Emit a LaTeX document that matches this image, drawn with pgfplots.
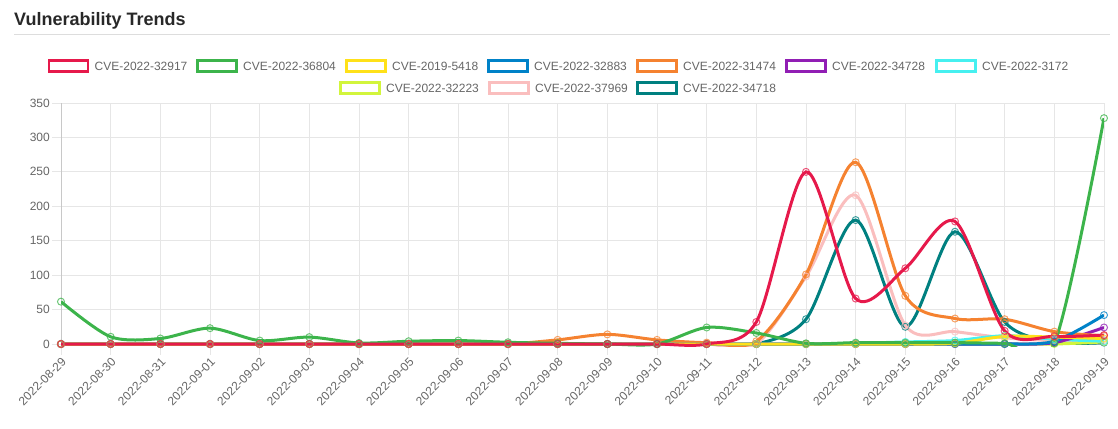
\documentclass[border=0pt]{standalone}
\usepackage{fontspec}
\setmainfont{Liberation Sans}
\usepackage{pgfplots}
\usepackage{pgfplotstable}
\pgfplotsset{compat=1.18}
\definecolor{cRed}{RGB}{230,25,75}
\definecolor{cGreen}{RGB}{60,180,75}
\definecolor{cYellow}{RGB}{255,225,25}
\definecolor{cBlue}{RGB}{0,130,200}
\definecolor{cOrange}{RGB}{245,130,48}
\definecolor{cPurple}{RGB}{145,30,180}
\definecolor{cCyan}{RGB}{70,240,240}
\definecolor{cLime}{RGB}{210,245,60}
\definecolor{cPink}{RGB}{250,190,190}
\definecolor{cTeal}{RGB}{0,128,128}
\definecolor{tickc}{RGB}{102,102,102}
\definecolor{gridc}{RGB}{230,230,230}
\definecolor{axisc}{RGB}{200,200,200}
\definecolor{titlec}{RGB}{40,40,40}
\definecolor{rulec}{RGB}{221,221,221}

\pgfplotstableread{
x red green yellow blue orange purple cyan lime pink teal
0  0   61.5 0  0  0   0  0  0  0   0
1  0   10.5 0  0  0   0  0  0  0   0
2  0   8    0  0  0   0  0  0  0   0
3  0   23   0  0  0   0  0  0  0   0
4  0   5    0  0  0   0  0  0  0   0
5  0   10   0  0  0   0  0  0  0   0
6  0   1.5  0  0  0   0  0  0  0   0
7  0   4    0  0  0   0  0  0  0   0
8  0   5    0  0  0   0  0  0  0   0
9  0   2.5  0  0  0   0  0  0  0   0
10 0   1    0  0  6   0  0  0  0   0
11 0   0    0  0  14  0  0  0  0   0
12 0   0    0  0  6   0  0  0  0   0
13 0   24   0  0  2   0  0  0  0   0
14 32  16   0  0  4   0  0  0  0   0
15 250 1    0  0  101 0  0  0  98  36
16 66  2    0  0  264 0  1  0  216 180
17 110 2    0  0  70  0  3  0  27  25
18 178 2    1  0  37  0  5  0  18  163
19 19  1    11 0  36  0  12 0  9   32
20 11  1    10 4  18  2  7  0  5   3
21 13  328  8  42 12  24 4  3  6   2
}\datatable

\begin{document}
\begin{tikzpicture}[x=1pt,y=1pt]
\path[use as bounding box] (0pt,0pt) rectangle (1118pt,-428pt);
\node[anchor=base west, font=\fontsize{18}{20}\selectfont\bfseries, text=titlec, inner sep=0] at (14pt,-25.5pt) {Vulnerability Trends};
\draw[rulec, line width=1pt] (14pt,-34.5pt) -- (1110pt,-34.5pt);
\foreach \xx/\yy/\col/\lab in {
  47.5/66/cRed/CVE-2022-32917,
  196/66/cGreen/CVE-2022-36804,
  345/66/cYellow/CVE-2019-5418,
  487/66/cBlue/CVE-2022-32883,
  636/66/cOrange/CVE-2022-31474,
  785/66/cPurple/CVE-2022-34728,
  935/66/cCyan/CVE-2022-3172,
  339/88/cLime/CVE-2022-32223,
  488/88/cPink/CVE-2022-37969,
  636/88/cTeal/CVE-2022-34718}{
  \draw[\col, line width=2.5pt, fill=white] (\xx pt+1.5pt,-\yy pt+5.5pt) rectangle (\xx pt+40.5pt,-\yy pt-5.5pt);
  \node[anchor=west, inner sep=0pt, font=\fontsize{12}{14}\selectfont, text=tickc] at (\xx pt+47pt,-\yy pt) {\lab};
}
\begin{axis}[
  at={(61pt,-346.07pt)}, anchor=south west,
  scale only axis, width=1043pt, height=243.07pt,
  xmin=0, xmax=21, ymin=-3, ymax=350,
  axis line style={draw=none},
  grid=major, major grid style={gridc, line width=0.8pt},
  tick align=outside, major tick length=9pt,
  tick style={gridc, line width=0.8pt},
  xtick pos=left, ytick pos=left,
  xtick={0,...,21},
  xticklabels={2022-08-29,2022-08-30,2022-08-31,2022-09-01,2022-09-02,2022-09-03,2022-09-04,2022-09-05,2022-09-06,2022-09-07,2022-09-08,2022-09-09,2022-09-10,2022-09-11,2022-09-12,2022-09-13,2022-09-14,2022-09-15,2022-09-16,2022-09-17,2022-09-18,2022-09-19},
  ytick={0,50,...,350},
  xticklabel style={rotate=45, anchor=north east, font=\fontsize{12}{14}\selectfont, text=tickc, inner sep=1pt},
  yticklabel style={font=\fontsize{12}{14}\selectfont, text=tickc, inner sep=2pt},
  /pgf/number format/assume math mode=true,
  every axis plot/.append style={smooth, line width=3pt, mark=o, mark size=3.5pt, mark options={line width=1pt, opacity=0.75}},
]
\draw[axisc, line width=0.8pt] (axis cs:0,-3) -- (axis cs:0,350);
\draw[axisc, line width=0.8pt] (axis cs:0,0) -- (axis cs:21,0);
\addplot[cTeal] table[x=x,y=teal]{\datatable};
\addplot[cPink] table[x=x,y=pink]{\datatable};
\addplot[cLime] table[x=x,y=lime]{\datatable};
\addplot[cCyan] table[x=x,y=cyan]{\datatable};
\addplot[cPurple] table[x=x,y=purple]{\datatable};
\addplot[cOrange] table[x=x,y=orange]{\datatable};
\addplot[cBlue] table[x=x,y=blue]{\datatable};
\addplot[cYellow] table[x=x,y=yellow]{\datatable};
\addplot[cGreen] table[x=x,y=green]{\datatable};
\addplot[cRed] table[x=x,y=red]{\datatable};
\end{axis}
\end{tikzpicture}
\end{document}
